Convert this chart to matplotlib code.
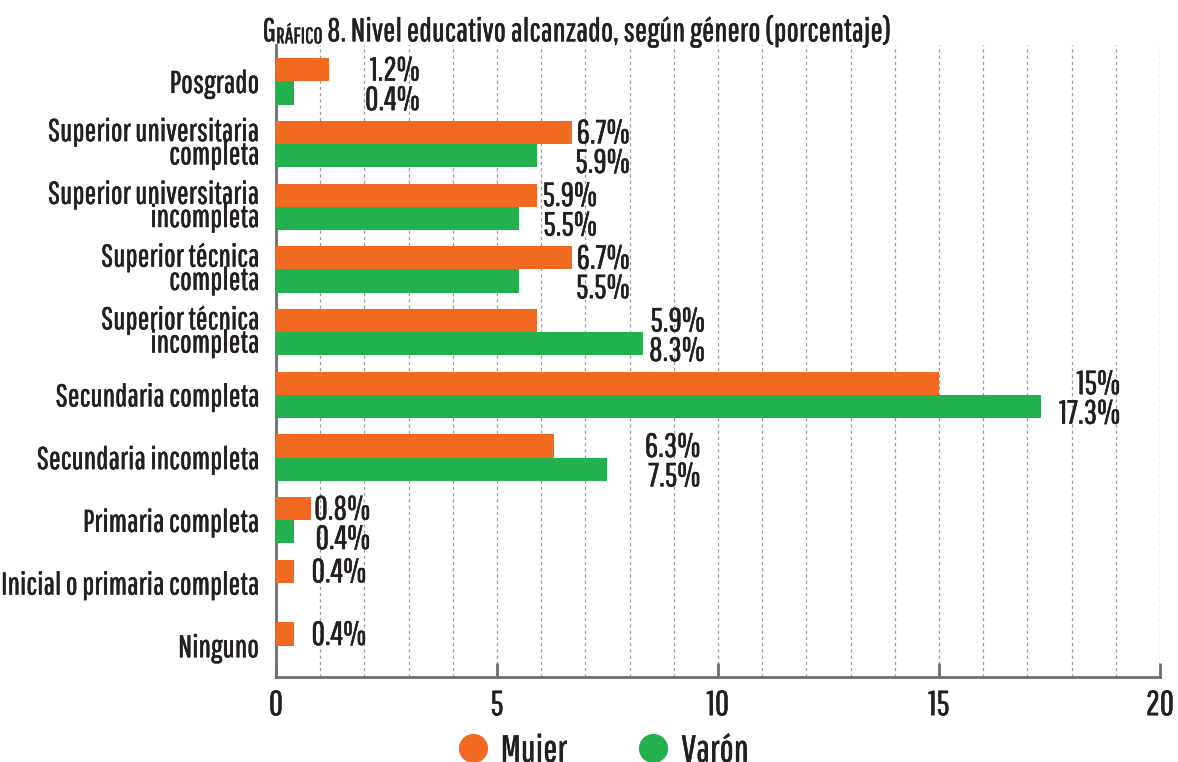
import numpy as np
import matplotlib
matplotlib.use("Agg")
import matplotlib.pyplot as plt
import matplotlib.patheffects as pe
from matplotlib.lines import Line2D

plt.rcParams['font.family'] = ['Pathway Gothic One', 'DejaVu Sans']

# datos
categorias = ['Posgrado',
              'Superior universitaria\ncompleta',
              'Superior universitaria\nincompleta',
              'Superior técnica\ncompleta',
              'Superior técnica\nincompleta',
              'Secundaria completa',
              'Secundaria incompleta',
              'Primaria completa',
              'Inicial o primaria completa',
              'Ninguno']
mujer = [1.2, 6.7, 5.9, 6.7, 5.9, 15, 6.3, 0.8, 0.4, 0.4]
varon = [0.4, 5.9, 5.5, 5.5, 8.3, 17.3, 7.5, 0.4, 0, 0]
xticks = [0, 5, 10, 15, 20]

# where the value labels end (right edge, in axis units)
label_right = [3.25, 8.0, 7.26, 8.0, 9.7, 19.1, 9.6, 2.13, 2.04, 2.04]

naranja = '#f26a22'
verde = '#22b14c'
texto = '#231f20'
gris = '#6d6e71'
bold = [pe.withStroke(linewidth=0.35, foreground=texto)]

fig = plt.figure(figsize=(11.78, 7.62), dpi=100)
ax = fig.add_axes([0.2343, 0.1115, 0.7504, 0.8295])

y = np.arange(len(categorias))
h = 0.37
ax.barh(y - h/2, mujer, height=h, color=naranja, zorder=3)
ax.barh(y + h/2, varon, height=h, color=verde, zorder=3)

for i in range(len(categorias)):
    if mujer[i] > 0:
        ax.text(label_right[i], y[i] - h/2 + 0.03, f"{mujer[i]:g}%", ha='right', va='center',
                fontsize=24, color=texto, path_effects=bold)
    if varon[i] > 0:
        ax.text(label_right[i], y[i] + h/2 + 0.13, f"{varon[i]:g}%", ha='right', va='center',
                fontsize=24, color=texto, path_effects=bold)

ax.set_yticks(y)
ax.set_yticklabels(categorias, fontsize=22.5, color=texto, linespacing=0.75, ha='right')
for lbl in ax.get_yticklabels():
    lbl.set_path_effects(bold)
ax.tick_params(axis='y', length=0, pad=12)
ax.set_ylim(9.5, -0.58)

ax.set_xlim(0, 20)
ax.set_xticks(xticks)
ax.set_xticklabels([str(t) for t in xticks], fontsize=25, color=texto)
for lbl in ax.get_xticklabels():
    lbl.set_path_effects(bold)
ax.set_xticks(range(1, 21), minor=True)
ax.tick_params(axis='x', which='major', direction='in', length=10, width=2, color=gris, pad=8)
ax.tick_params(axis='x', which='minor', length=0)
ax.grid(axis='x', which='both', linestyle=(0, (2.5, 2.5)), color='#9a9a9a', linewidth=0.9)
ax.set_axisbelow(True)

for s in ['top', 'right']:
    ax.spines[s].set_visible(False)
for s in ['left', 'bottom']:
    ax.spines[s].set_color(gris)
    ax.spines[s].set_linewidth(2)

# titulo con versalitas
t1 = fig.text(0.223, 0.938, 'G', fontsize=23.5, color=texto, va='bottom', path_effects=bold)
t2 = ax.annotate('RÁFICO', xy=(1, 0), xycoords=t1, fontsize=16, color=texto, va='bottom',
                 annotation_clip=False, path_effects=bold)
t3 = ax.annotate(' 8. Nivel educativo alcanzado, según género (porcentaje)', xy=(1, 0),
                 xycoords=(t2, t1), fontsize=23.5, color=texto, va='bottom', annotation_clip=False,
                 path_effects=bold)

handles = [Line2D([], [], marker='o', linestyle='none', markersize=20, color=naranja),
           Line2D([], [], marker='o', linestyle='none', markersize=20, color=verde)]
leg = fig.legend(handles, ['Mujer', 'Varón'], loc='center', bbox_to_anchor=(0.512, 0.014), ncol=2,
                 frameon=False, fontsize=27, handlelength=0.8, handletextpad=0.35,
                 columnspacing=1.9, labelcolor=texto)
for t in leg.get_texts():
    t.set_path_effects(bold)

fig.savefig('out.png', dpi=100)
